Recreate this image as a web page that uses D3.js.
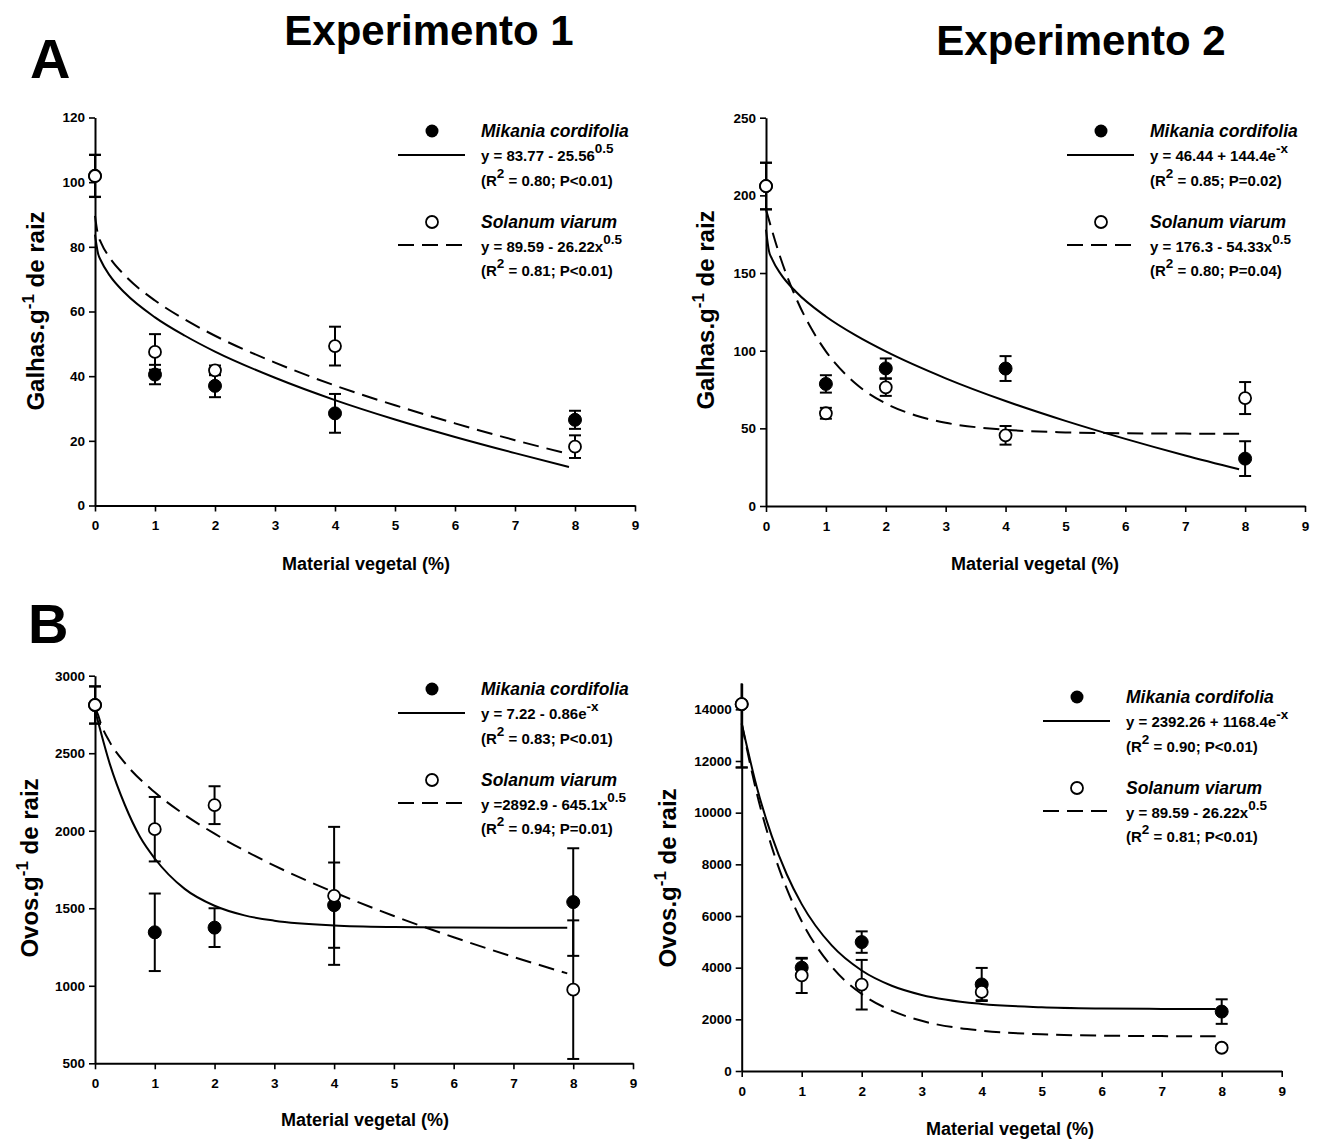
<!DOCTYPE html>
<html>
<head>
<meta charset="utf-8">
<script src="https://cdnjs.cloudflare.com/ajax/libs/d3/7.8.5/d3.min.js"></script>
<style>
body{margin:0;background:#fff;}
svg{font-family:"Liberation Sans",Arial,sans-serif;font-weight:bold;}
</style>
</head>
<body>
<script>
// DATA
var doses=[0,1,2,4,8];
var xTicks=[0,1,2,3,4,5,6,7,8,9];

// Galhas.g-1 de raiz - Experimento 1
var galhas1Mik=[102,40.5,37.0,28.5,26.5];
var galhas1MikErr=[6.5,3.0,3.5,6.0,2.8];
var galhas1Sol=[101.9,47.5,41.8,49.3,18.2];
var galhas1SolErr=[6.5,5.5,1.5,6.0,3.5];

// Galhas.g-1 de raiz - Experimento 2
var galhas2Mik=[206,78.6,88.6,88.5,30.5];
var galhas2MikErr=[15,5.6,6.4,8,11.2];
var galhas2Sol=[206,59.7,76.4,45.5,69.5];
var galhas2SolErr=[15,3.5,5.5,6,10.3];

// Ovos.g-1 de raiz - Experimento 1
var ovos1Mik=[2811,1345,1375,1520,1540];
var ovos1MikErr=[120,250,125,275,347];
var ovos1Sol=[2811,2010,2165,1580,975];
var ovos1SolErr=[120,208,122,445,447];

// Ovos.g-1 de raiz - Experimento 2
var ovos2Mik=[14200,4000,4990,3350,2300];
var ovos2MikErr=[2450,350,415,640,475];
var ovos2Sol=[14200,3700,3340,3060,900];
var ovos2SolErr=[2450,680,960,320,100];

// fitted curves, sampled along the drawn lines
var fitXa=[0,0.05,0.1,0.25,0.5,1,1.5,2,3,4,5,6,7,7.9];
var fitXb=[0,0.25,0.5,0.75,1,1.5,2,2.5,3,4,5,6,7,7.9];
var fitG1Mik=[83.8,78.0,75.7,71.0,65.7,58.2,52.5,47.6,39.5,32.6,26.6,21.2,16.2,11.9];
var fitG1Sol=[89.6,83.7,81.3,76.5,71.1,63.4,57.5,52.5,44.2,37.1,31.0,25.4,20.2,15.9];
var fitG2Mik=[178,164.1,159.1,149.1,137.9,122.0,109.8,99.5,82.2,67.6,54.8,43.2,32.5,23.6];
var fitG2Sol=[190.8,158.9,134.0,114.7,99.6,78.7,66.0,58.3,53.6,49.1,47.4,46.8,46.6,46.5];
var fitO1Mik=[2780,2428,2166,1963,1821,1625,1516,1454,1420,1389,1379,1376,1375,1375];
var fitO1Sol=[2790,2749,2689,2570,2437,2248,2103,1981,1775,1603,1450,1313,1186,1080];
var fitO2Mik=[13450,11005,9100,7616,6460,4860,3890,3300,2943,2595,2467,2419,2403,2396];
var fitO2Sol=[13450,10770,8685,7060,5795,4042,2979,2334,1943,1562,1422,1370,1351,1344];

var yTicksG1=[0,20,40,60,80,100,120];
var yTicksG2=[0,50,100,150,200,250];
var yTicksO1=[500,1000,1500,2000,2500,3000];
var yTicksO2=[0,2000,4000,6000,8000,10000,12000,14000];

var legMik="Mikania cordifolia";
var legSol="Solanum viarum";
var eqG1=[["y = 83.77 - 25.56","0.5"],["y = 89.59 - 26.22x","0.5"]];
var eqG2=[["y = 46.44 + 144.4e","-x"],["y = 176.3 - 54.33x","0.5"]];
var eqO1=[["y = 7.22 - 0.86e","-x"],["y =2892.9 - 645.1x","0.5"]];
var eqO2=[["y = 2392.26 + 1168.4e","-x"],["y = 89.59 - 26.22x","0.5"]];
var statG1=[["0.80","P<0.01"],["0.81","P<0.01"]];
var statG2=[["0.85","P=0.02"],["0.80","P=0.04"]];
var statO1=[["0.83","P<0.01"],["0.94","P=0.01"]];
var statO2=[["0.90","P<0.01"],["0.81","P<0.01"]];

var svg=d3.select("body").append("svg")
  .attr("width",1319).attr("height",1140);

// panel layouts
var panels=[
  {left:95,right:635,top:117.5,bottom:505.5,ydom:[0,120],yticks:yTicksG1,ylab:"Galhas.g",ylabX:44,ylabY:311,xlabX:366,xlabY:570,
   mik:galhas1Mik,mikErr:galhas1MikErr,sol:galhas1Sol,solErr:galhas1SolErr,fitMik:[fitXa,fitG1Mik],fitSol:[fitXa,fitG1Sol],
   eq:eqG1,stat:statG1,legX:432,legY:131},
  {left:766,right:1305,top:117.7,bottom:506,ydom:[0,250],yticks:yTicksG2,ylab:"Galhas.g",ylabX:714,ylabY:310,xlabX:1035,xlabY:570,
   mik:galhas2Mik,mikErr:galhas2MikErr,sol:galhas2Sol,solErr:galhas2SolErr,fitMik:[fitXa,fitG2Mik],fitSol:[fitXb,fitG2Sol],
   eq:eqG2,stat:statG2,legX:1101,legY:131},
  {left:95,right:633,top:675.7,bottom:1063.3,ydom:[500,3000],yticks:yTicksO1,ylab:"Ovos.g",ylabX:38,ylabY:868,xlabX:365,xlabY:1126,
   mik:ovos1Mik,mikErr:ovos1MikErr,sol:ovos1Sol,solErr:ovos1SolErr,fitMik:[fitXb,fitO1Mik],fitSol:[fitXa,fitO1Sol],
   eq:eqO1,stat:statO1,legX:432,legY:689},
  {left:741.7,right:1281.7,top:683.5,bottom:1071,ydom:[0,15000],yticks:yTicksO2,ylab:"Ovos.g",ylabX:676,ylabY:878,xlabX:1010,xlabY:1135,
   mik:ovos2Mik,mikErr:ovos2MikErr,sol:ovos2Sol,solErr:ovos2SolErr,fitMik:[fitXb,fitO2Mik],fitSol:[fitXb,fitO2Sol],
   eq:eqO2,stat:statO2,legX:1077,legY:697}
];

panels.forEach(drawPanel);

// titles
svg.append("text").attr("x",429).attr("y",45).attr("text-anchor","middle")
  .attr("font-size","42px").text("Experimento 1");
svg.append("text").attr("x",1081).attr("y",55).attr("text-anchor","middle")
  .attr("font-size","42px").text("Experimento 2");
svg.append("text").attr("x",30).attr("y",78).attr("font-size","56px").text("A");
svg.append("text").attr("x",28).attr("y",643).attr("font-size","56px").text("B");


function drawPanel(p){
  var g=svg.append("g");
  var x=d3.scaleLinear().domain([0,9]).range([p.left,p.right]);
  var y=d3.scaleLinear().domain(p.ydom).range([p.bottom,p.top]);

  var xa=g.append("g").attr("transform","translate(0,"+p.bottom+")")
    .call(d3.axisBottom(x).tickValues(xTicks).tickSize(6).tickSizeOuter(0).tickPadding(9));
  var ya=g.append("g").attr("transform","translate("+p.left+",0)")
    .call(d3.axisLeft(y).tickValues(p.yticks).tickFormat(d3.format("d"))
      .tickSize(6).tickSizeOuter(0).tickPadding(4));

  [xa,ya].forEach(function(a){
    a.select(".domain").attr("stroke","#000").attr("stroke-width",2);
    a.selectAll(".tick line").attr("stroke","#000").attr("stroke-width",1.6);
    a.selectAll(".tick text").attr("fill","#000").attr("font-size","13.5px")
      .attr("font-family","'Liberation Sans',Arial,sans-serif").attr("font-weight","bold");
  });

  // axis titles
  var yl=g.append("text").attr("transform","translate("+p.ylabX+","+p.ylabY+") rotate(-90)")
    .attr("text-anchor","middle").attr("font-size","24px");
  yl.append("tspan").text(p.ylab);
  yl.append("tspan").attr("dy",-10).attr("font-size","17px").text("-1");
  yl.append("tspan").attr("dy",10).text(" de raiz");

  g.append("text").attr("x",p.xlabX).attr("y",p.xlabY).attr("text-anchor","middle")
    .attr("font-size","18px").text("Material vegetal (%)");

  // fitted lines
  var line=d3.line().x(function(d){return x(d[0]);}).y(function(d){return y(d[1]);})
    .curve(d3.curveMonotoneX);
  g.append("path").datum(d3.zip(p.fitMik[0],p.fitMik[1]))
    .attr("d",line).attr("fill","none").attr("stroke","#000").attr("stroke-width",2);
  g.append("path").datum(d3.zip(p.fitSol[0],p.fitSol[1]))
    .attr("d",line).attr("fill","none").attr("stroke","#000").attr("stroke-width",2)
    .attr("stroke-dasharray","16,8");

  // error bars
  var ymax=p.ydom[1];
  [[p.mik,p.mikErr],[p.sol,p.solErr]].forEach(function(s){
    var d=doses.map(function(v,i){return {x:v,y:s[0][i],e:s[1][i]};});
    var eb=g.append("g").selectAll("g").data(d).enter().append("g");
    eb.append("line")
      .attr("x1",function(d){return x(d.x);}).attr("x2",function(d){return x(d.x);})
      .attr("y1",function(d){return y(d.y-d.e);})
      .attr("y2",function(d){return y(Math.min(d.y+d.e,ymax));})
      .attr("stroke","#000").attr("stroke-width",2);
    eb.append("line")
      .attr("x1",function(d){return x(d.x)-6;}).attr("x2",function(d){return x(d.x)+6;})
      .attr("y1",function(d){return y(d.y-d.e);}).attr("y2",function(d){return y(d.y-d.e);})
      .attr("stroke","#000").attr("stroke-width",2);
    eb.filter(function(d){return d.y+d.e<=ymax;}).append("line")
      .attr("x1",function(d){return x(d.x)-6;}).attr("x2",function(d){return x(d.x)+6;})
      .attr("y1",function(d){return y(d.y+d.e);}).attr("y2",function(d){return y(d.y+d.e);})
      .attr("stroke","#000").attr("stroke-width",2);
  });

  // points: filled (Mikania) then open (Solanum)
  g.append("g").selectAll("circle").data(d3.zip(doses,p.mik)).enter().append("circle")
    .attr("cx",function(d){return x(d[0]);}).attr("cy",function(d){return y(d[1]);})
    .attr("r",6.5).attr("fill","#000").attr("stroke","#000").attr("stroke-width",1);
  g.append("g").selectAll("circle").data(d3.zip(doses,p.sol)).enter().append("circle")
    .attr("cx",function(d){return x(d[0]);}).attr("cy",function(d){return y(d[1]);})
    .attr("r",6).attr("fill","#fff").attr("stroke","#000").attr("stroke-width",1.8);

  // legend
  var lx=p.legX, ly=p.legY, tx=lx+49;
  g.append("circle").attr("cx",lx).attr("cy",ly).attr("r",6.5).attr("fill","#000");
  g.append("text").attr("x",tx).attr("y",ly+6).attr("font-size","17.5px")
    .attr("font-style","italic").text(legMik);
  g.append("line").attr("x1",lx-34).attr("x2",lx+33).attr("y1",ly+24).attr("y2",ly+24)
    .attr("stroke","#000").attr("stroke-width",2);
  eqText(g,tx,ly+30,p.eq[0]);
  statText(g,tx,ly+55,p.stat[0]);

  g.append("circle").attr("cx",lx).attr("cy",ly+91).attr("r",6).attr("fill","#fff")
    .attr("stroke","#000").attr("stroke-width",1.8);
  g.append("text").attr("x",tx).attr("y",ly+97).attr("font-size","17.5px")
    .attr("font-style","italic").text(legSol);
  g.append("line").attr("x1",lx-34).attr("x2",lx+33).attr("y1",ly+114).attr("y2",ly+114)
    .attr("stroke","#000").attr("stroke-width",2).attr("stroke-dasharray","16,8");
  eqText(g,tx,ly+121,p.eq[1]);
  statText(g,tx,ly+145,p.stat[1]);
}

function eqText(g,x,y,eq){
  var t=g.append("text").attr("x",x).attr("y",y).attr("font-size","15px");
  t.append("tspan").text(eq[0]);
  t.append("tspan").attr("dy",-8).attr("font-size","13.5px").text(eq[1]);
}

function statText(g,x,y,st){
  var t=g.append("text").attr("x",x).attr("y",y).attr("font-size","15px");
  t.append("tspan").text("(R");
  t.append("tspan").attr("dy",-8).attr("font-size","13.5px").text("2");
  t.append("tspan").attr("dy",8).text(" = "+st[0]+"; "+st[1]+")");
}
</script>
</body>
</html>
